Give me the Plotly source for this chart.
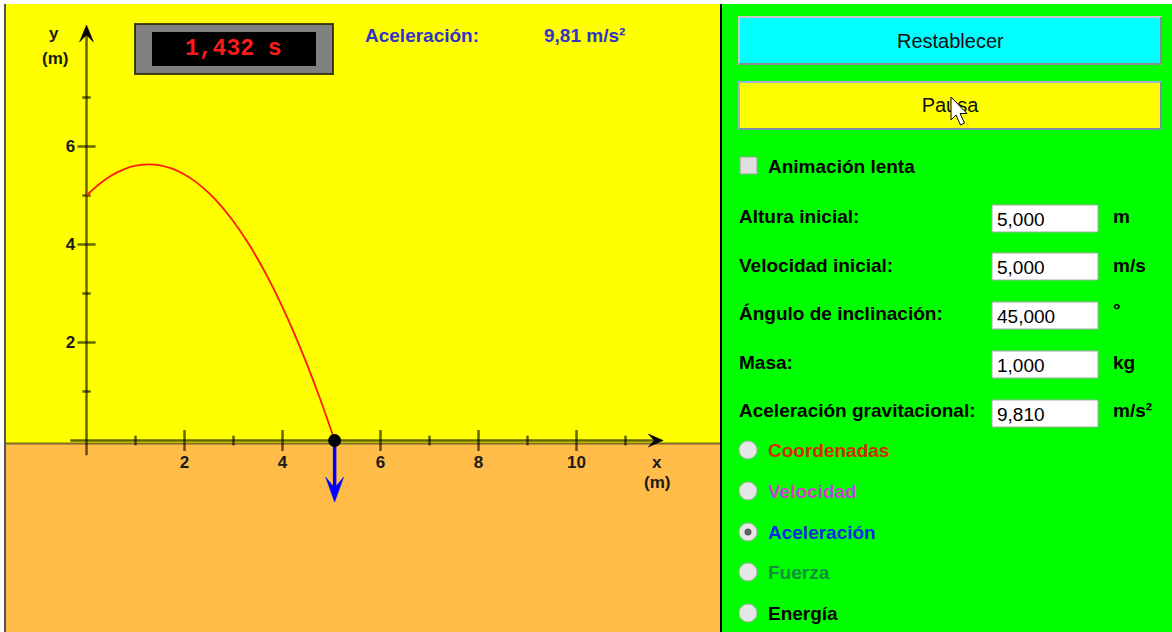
import plotly.graph_objects as go

# ------------------------------------------------------------------ data
traj_x = [0.00, 0.25, 0.50, 0.75, 1.00, 1.25, 1.50, 1.75, 2.00, 2.25, 2.50,
          2.75, 3.00, 3.25, 3.50, 3.75, 4.00, 4.25, 4.50, 4.75, 5.00, 5.064]
traj_y = [5.000, 5.225, 5.402, 5.529, 5.608, 5.637, 5.617, 5.548, 5.430, 5.263, 5.048,
          4.782, 4.468, 4.105, 3.693, 3.232, 2.722, 2.162, 1.554, 0.897, 0.190, 0.000]
ball_x = [5.064]
ball_y = [0.0]
x_major_ticks = [2, 4, 6, 8, 10]
x_minor_ticks = [1, 3, 5, 7, 9, 11]
y_major_ticks = [2, 4, 6]
y_minor_ticks = [1, 3, 5, 7]
elapsed_time = 1.432
acceleration = 9.81
param_labels = ["Altura inicial:", "Velocidad inicial:", "Ángulo de inclinación:",
                "Masa:", "Aceleración gravitacional:"]
param_values = [5.0, 5.0, 45.0, 1.0, 9.81]
param_units = ["m", "m/s", "°", "kg", "m/s²"]
view_options = ["Coordenadas", "Velocidad", "Aceleración", "Fuerza", "Energía"]
view_colors = ["#d42a00", "#cf3fcf", "#0a2ae6", "#0f8f3c", "#000000"]
selected_option = "Aceleración"

# ------------------------------------------------------------------ geometry / style
W, H = 1172, 632
PPU = 49.0            # pixels per metre
OX, OY = 86.5, 440.5  # pixel position of the origin
AX_COL = "rgba(0,0,0,0.6)"
FONT = "Liberation Sans"


def num(v, d):
    return f"{v:.{d}f}".replace(".", ",")


def u(px):
    return px / PPU


fig = go.Figure()

shapes = []


def rect(x0, y0, x1, y1, fill, line=None, lw=0, layer="below"):
    shapes.append(dict(type="rect", xref="x2", yref="y2", x0=x0, y0=y0, x1=x1, y1=y1,
                       fillcolor=fill, line=dict(color=line or fill, width=lw), layer=layer))


def seg(x0, y0, x1, y1, color, lw, layer="below"):
    shapes.append(dict(type="line", xref="x2", yref="y2", x0=x0, y0=y0, x1=x1, y1=y1,
                       line=dict(color=color, width=lw), layer=layer))


# panels
rect(6, 4, 720, 443.5, "#ffff00")
rect(6, 443.5, 720, 632, "#ffbc48")
seg(6, 443.5, 720, 443.5, "rgba(0,0,0,0.5)", 2)
seg(5, 4, 5, 632, "#555555", 2)
rect(722, 4, W, 632, "#00ff00")
seg(721, 4, 721, 632, "#000000", 2)

# timer box
rect(135, 24, 333, 74, "#808080", "rgba(40,40,0,0.85)", 2)
rect(152, 32, 316, 66, "#000000")

# buttons (with a simple bevel)
rect(739, 17, 1161, 64, "#00ffff", "#c8c8c8", 2)
seg(739, 64, 1161, 64, "#8c8c8c", 2)
seg(1161, 17, 1161, 64, "#8c8c8c", 2)
rect(739, 82, 1161, 129, "#ffff00", "#9fb4d0", 2)
seg(739, 129, 1161, 129, "#7a8ea8", 2)
seg(1161, 82, 1161, 129, "#7a8ea8", 2)
# checkbox
rect(740, 157, 757, 174, "#dedede", "#a0a0a0", 1)
# input boxes
box_tops = [205, 253, 302, 351, 400]
for t in box_tops:
    rect(992, t, 1098, t + 27, "#ffffff", "#a8a8a8", 1)
# radio buttons
radio_y = [450, 491, 532, 572, 613]
for name, ry in zip(view_options, radio_y):
    shapes.append(dict(type="circle", xref="x2", yref="y2", x0=739, x1=757, y0=ry - 9, y1=ry + 9,
                       fillcolor="#e6e6e6", line=dict(color="#b0b0b0", width=1), layer="below"))
    if name == selected_option:
        shapes.append(dict(type="circle", xref="x2", yref="y2", x0=744.5, x1=751.5, y0=ry - 3.5,
                           y1=ry + 3.5, fillcolor="#606060", line=dict(color="#606060", width=0),
                           layer="below"))

# ---- axes arrows (data coords)
x_axis_from, x_axis_tip = -0.33, 11.77
y_axis_from, y_axis_tip = -0.30, 8.48


def stealth(tx, ty, dx, dy, length, hw, notch):
    bx, by = tx - dx * u(length), ty - dy * u(length)
    nx, ny = tx - dx * u(notch), ty - dy * u(notch)
    px, py = -dy * u(hw), dx * u(hw)
    return (f"M {tx},{ty} L {bx + px},{by + py} L {nx},{ny} L {bx - px},{by - py} Z")


for p in [stealth(x_axis_tip, 0, 1, 0, 15, 6.5, 9),
          stealth(0, y_axis_tip, 0, 1, 17, 7, 10)]:
    shapes.append(dict(type="path", xref="x", yref="y", path=p, fillcolor="#000000",
                       line=dict(color="#000000", width=0.5), layer="above"))

fig.add_trace(go.Scatter(x=[x_axis_from, x_axis_tip - u(9)], y=[0, 0], mode="lines",
                         line=dict(color=AX_COL, width=2.5), hoverinfo="skip"))
fig.add_trace(go.Scatter(x=[0, 0], y=[y_axis_from, y_axis_tip - u(10)], mode="lines",
                         line=dict(color=AX_COL, width=2.5), hoverinfo="skip"))
# cross ticks
fig.add_trace(go.Scatter(x=x_major_ticks, y=[0] * len(x_major_ticks), mode="markers",
                         marker=dict(symbol="line-ns", size=15, line=dict(color=AX_COL, width=2.5)),
                         hoverinfo="skip"))
fig.add_trace(go.Scatter(x=x_minor_ticks, y=[0] * len(x_minor_ticks), mode="markers",
                         marker=dict(symbol="line-ns", size=7, line=dict(color=AX_COL, width=2.5)),
                         hoverinfo="skip"))
fig.add_trace(go.Scatter(x=[0] * len(y_major_ticks), y=y_major_ticks, mode="markers",
                         marker=dict(symbol="line-ew", size=13, line=dict(color=AX_COL, width=2.5)),
                         hoverinfo="skip"))
fig.add_trace(go.Scatter(x=[0] * len(y_minor_ticks), y=y_minor_ticks, mode="markers",
                         marker=dict(symbol="line-ew", size=6, line=dict(color=AX_COL, width=2.5)),
                         hoverinfo="skip"))

# trajectory
fig.add_trace(go.Scatter(x=traj_x, y=traj_y, mode="lines", line=dict(color="#ff1a00", width=1.8),
                         line_shape="spline", hoverinfo="skip"))
# acceleration vector
acc_len_px = acceleration * 6.28
tip_y = ball_y[0] - u(acc_len_px)
fig.add_trace(go.Scatter(x=[ball_x[0], ball_x[0]], y=[ball_y[0], tip_y + u(14)], mode="lines",
                         line=dict(color="#0000ff", width=3.5), hoverinfo="skip"))
shapes.append(dict(type="path", xref="x", yref="y", path=stealth(ball_x[0], tip_y, 0, -1, 25, 9, 14),
                   fillcolor="#0000ff", line=dict(color="#0000ff", width=0.5), layer="above"))
# ball
fig.add_trace(go.Scatter(x=ball_x, y=ball_y, mode="markers",
                         marker=dict(size=13, color="#000000"), hoverinfo="skip"))

# "Pausa" as trace text so the cursor shape can sit above it
fig.add_trace(go.Scatter(x=[950], y=[107], xaxis="x2", yaxis="y2", mode="text", text=["Pausa"],
                         textfont=dict(family=FONT, size=20, color="#111111"), hoverinfo="skip"))

# mouse cursor
cur = "M 951,97 L 951,120 L 956,115 L 960.5,125 L 964.5,123 L 960,113.5 L 967,113.5 Z"
shapes.append(dict(type="path", xref="x2", yref="y2", path=cur, fillcolor="#ffffff",
                   line=dict(color="#000000", width=1), layer="above"))

# ------------------------------------------------------------------ texts
ann = []


def text(x, y, s, size=19, color="#000000", bold=True, xanchor="left", family=FONT):
    ann.append(dict(x=x, y=y, xref="x2", yref="y2", text=s, showarrow=False, xanchor=xanchor,
                    yanchor="middle",
                    font=dict(family=family, size=size, color=color,
                              weight="bold" if bold else "normal")))


text(233.5, 49, f"{num(elapsed_time, 3)} s", size=23, color="#ff1a1a", xanchor="center",
     family="Liberation Mono")
text(363, 35, "Aceleración:", color="#3232c8")
text(542, 35, f"{num(acceleration, 2)} m/s²", color="#3232c8")
text(54, 33, "y", size=17, color="#1a1a1a", xanchor="center")
text(55, 58, "(m)", size=17, color="#1a1a1a", xanchor="center")
text(657, 462, "x", size=17, color="#1a1a1a", xanchor="center")
text(657, 482, "(m)", size=17, color="#1a1a1a", xanchor="center")

text(950, 41, "Restablecer", size=20, color="#111111", bold=False, xanchor="center")
text(766, 166, "Animación lenta")
label_y = [216, 265, 313, 362, 410]
for lab, val, unit, ly, bt in zip(param_labels, param_values, param_units, label_y, box_tops):
    text(737, ly, lab)
    text(995, bt + 14, num(val, 3), bold=False)
    text(1111, ly - (4 if unit == "°" else 0), unit)
for name, col, ry in zip(view_options, view_colors, radio_y):
    text(766, ry, name, color=col)

tick_font = dict(family=FONT, size=17, color="#1a1a1a", weight="bold")
fig.update_layout(
    width=W, height=H, margin=dict(l=0, r=0, t=0, b=0), autosize=False,
    paper_bgcolor="#ffffff", plot_bgcolor="rgba(0,0,0,0)", showlegend=False,
    shapes=shapes, annotations=ann,
    xaxis=dict(range=[-OX / PPU, (W - OX) / PPU], domain=[0, 1], anchor="free",
               position=1 - OY / H, showgrid=False, zeroline=False, showline=False,
               tickvals=x_major_ticks, ticktext=[str(v) for v in x_major_ticks],
               ticks="outside", ticklen=6, tickcolor="rgba(0,0,0,0)",
               tickfont=tick_font, fixedrange=True),
    yaxis=dict(range=[(OY - H) / PPU, OY / PPU], domain=[0, 1], anchor="free",
               position=OX / W, showgrid=False, zeroline=False, showline=False,
               tickvals=y_major_ticks, ticktext=[str(v) for v in y_major_ticks],
               ticks="outside", ticklen=8, tickcolor="rgba(0,0,0,0)",
               tickfont=tick_font, fixedrange=True),
    xaxis2=dict(range=[0, W], domain=[0, 1], overlaying="x", anchor="y2", visible=False,
                fixedrange=True),
    yaxis2=dict(range=[H, 0], domain=[0, 1], overlaying="y", anchor="x2", visible=False,
                fixedrange=True),
)

fig.write_html("out.html", config={"displayModeBar": False, "staticPlot": True},
               post_script="document.body.style.margin='0px';document.body.style.overflow='hidden';")
